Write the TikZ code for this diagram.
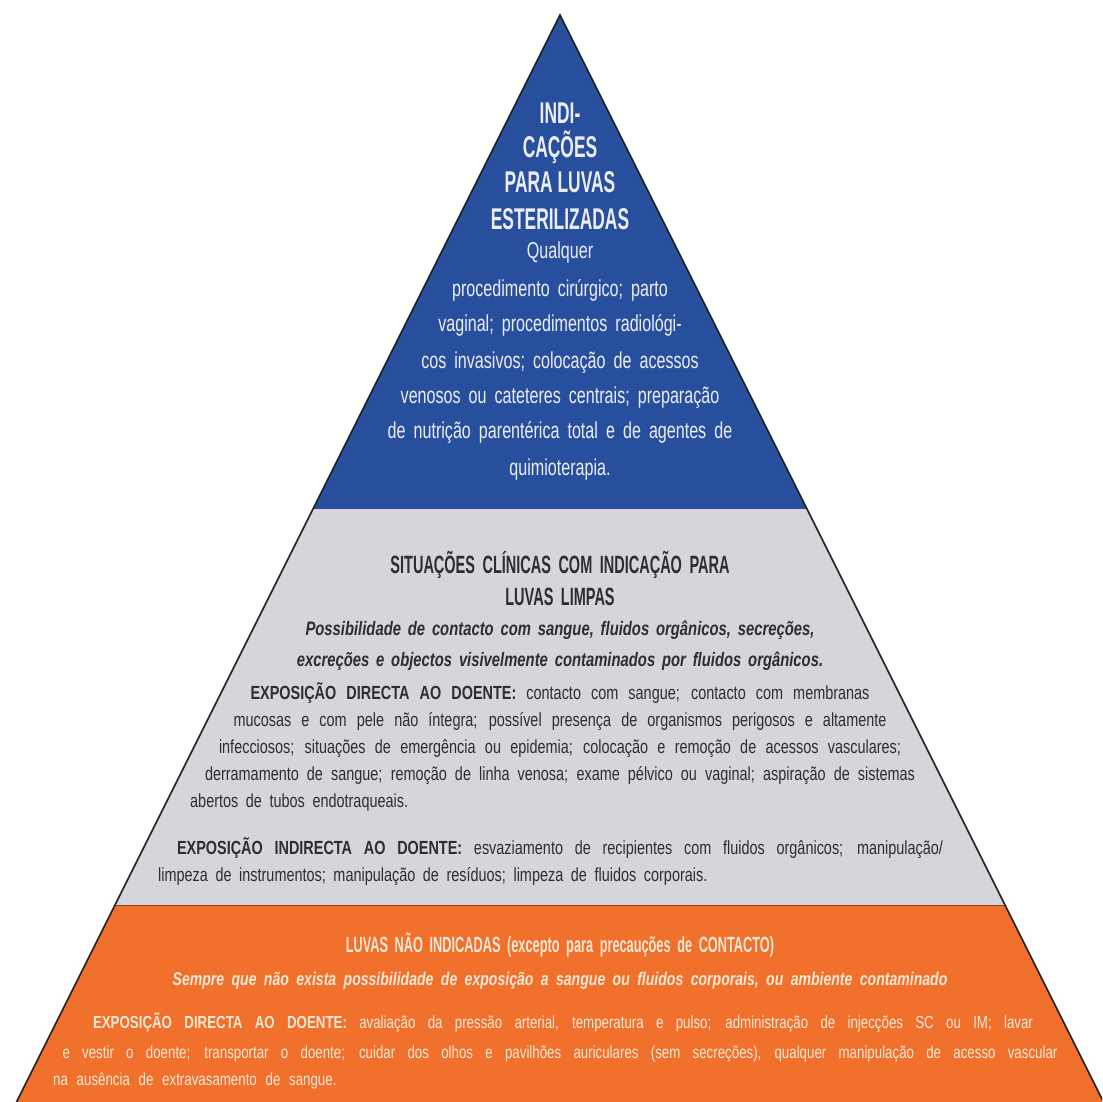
\documentclass[tikz,border=0pt]{standalone}
\usepackage{fontspec}
\setmainfont{Liberation Sans}[FakeStretch=0.76]
\newfontfamily\bluefont{Liberation Sans}[FakeStretch=0.70]
\newfontfamily\condensed{Liberation Sans}[FakeStretch=0.58]

\definecolor{pyrblue}{RGB}{40,78,158}
\definecolor{pyrgray}{RGB}{213,214,219}
\definecolor{pyrorange}{RGB}{240,112,44}
\definecolor{bluetext}{RGB}{236,238,245}
\definecolor{graytext}{RGB}{45,45,50}
\definecolor{orangetext}{RGB}{252,232,215}

\newcommand{\gap}[1]{\spaceskip=#1em plus .8em minus .05em\relax}
\newcommand{\jline}[2]{\makebox[#1][s]{#2}}

\tikzset{
    line/.style={anchor=base, inner sep=0pt},
    lline/.style={anchor=base west, inner sep=0pt},
    bluetitle/.style={text=bluetext, font=\condensed\bfseries\fontsize{30}{30}\selectfont},
    bluebody/.style={text=bluetext, font=\bluefont\fontsize{23}{23}\selectfont\gap{.35}},
    graytitle/.style={text=graytext, font=\condensed\bfseries\fontsize{25}{25}\selectfont\gap{.3}},
    grayital/.style={text=graytext, font=\bfseries\itshape\fontsize{19.5}{19.5}\selectfont\gap{.35}},
    graybody/.style={text=graytext, font=\fontsize{19}{19}\selectfont\gap{.4}},
    orangetitle/.style={text=orangetext, font=\condensed\bfseries\fontsize{22}{22}\selectfont\gap{.3}},
    orangeital/.style={text=orangetext, font=\bfseries\itshape\fontsize{18.5}{18.5}\selectfont\gap{.4}},
    orangebody/.style={text=orangetext, font=\fontsize{17.5}{17.5}\selectfont\gap{.5}},
}

\begin{document}
\begin{tikzpicture}[x=1pt,y=-1pt]

    \useasboundingbox (0,0) rectangle (1102,1102);
    \clip (0,0) rectangle (1102,1102);

    \coordinate (apex) at (560,15);
    \coordinate (bL) at (313,509);
    \coordinate (bR) at (807,509);
    \coordinate (gL) at (115,905);
    \coordinate (gR) at (1005,905);
    \coordinate (oL) at (16.5,1102);
    \coordinate (oR) at (1103.5,1102);

    \fill[pyrblue] (apex) -- (bR) -- (bL) -- cycle;
    \fill[pyrgray] (bL) -- (bR) -- (gR) -- (gL) -- cycle;
    \fill[pyrorange] (gL) -- (gR) -- (oR) -- (oL) -- cycle;
    \draw[pyrorange!60!black, thin] (gL) -- (gR);
    \draw[black!85, line width=1.6pt, line join=miter] (oL) -- (apex) -- (oR);

    % top: sterile gloves
    \node[line, bluetitle] (b1) at (560,124) {INDI-};
    \node[line, bluetitle] (b2) at (560,158) {CAÇÕES};
    \node[line, bluetitle] (b3) at (560,193) {PARA LUVAS};
    \node[line, bluetitle] (b4) at (560,229) {ESTERILIZADAS};
    \foreach \y/\txt [count=\i] in {
        258/{Qualquer},
        296/{procedimento cirúrgico; parto},
        331/{vaginal; procedimentos radiológi-},
        368/{cos invasivos; colocação de acessos},
        403/{venosos ou cateteres centrais; preparação},
        438/{de nutrição parentérica total e de agentes de},
        475/{quimioterapia.}}
        \node[line, bluebody] (q\i) at (560,\y) {\txt};

    % middle: clean gloves
    \node[line, graytitle] (g1) at (560,573) {SITUAÇÕES CLÍNICAS COM INDICAÇÃO PARA};
    \node[line, graytitle] (g2) at (560,605) {LUVAS LIMPAS};
    \node[line, grayital] (g3) at (560,635) {Possibilidade de contacto com sangue, fluidos orgânicos, secreções,};
    \node[line, grayital] (g4) at (560,666) {excreções e objectos visivelmente contaminados por fluidos orgânicos.};

    \node[line, graybody] (d1) at (560,699) {\jline{619pt}{\textbf{EXPOSIÇÃO DIRECTA AO DOENTE:} contacto com sangue; contacto com membranas}};
    \node[line, graybody] (d2) at (560,726) {\jline{653pt}{mucosas e com pele não íntegra; possível presença de organismos perigosos e altamente}};
    \node[line, graybody] (d3) at (560,753) {\jline{682pt}{infecciosos; situações de emergência ou epidemia; colocação e remoção de acessos vasculares;}};
    \node[line, graybody] (d4) at (560,780) {\jline{710pt}{derramamento de sangue; remoção de linha venosa; exame pélvico ou vaginal; aspiração de sistemas}};
    \node[lline, graybody] (d5) at (190,807) {abertos de tubos endotraqueais.};

    \node[line, graybody] (i1) at (560,854) {\jline{766pt}{\textbf{EXPOSIÇÃO INDIRECTA AO DOENTE:} esvaziamento de recipientes com fluidos orgânicos; manipulação/}};
    \node[lline, graybody] (i2) at (158,881) {limpeza de instrumentos; manipulação de resíduos; limpeza de fluidos corporais.};

    % bottom: gloves not indicated
    \node[line, orangetitle] (o1) at (560,952) {LUVAS NÃO INDICADAS (excepto para precauções de CONTACTO)};
    \node[line, orangeital] (o2) at (560,985) {Sempre que não exista possibilidade de exposição a sangue ou fluidos corporais, ou ambiente contaminado};
    \node[line, orangebody] (o3) at (563,1028) {\jline{940pt}{\textbf{EXPOSIÇÃO DIRECTA AO DOENTE:} avaliação da pressão arterial, temperatura e pulso; administração de injecções SC ou IM; lavar}};
    \node[line, orangebody] (o4) at (560,1058) {\jline{995pt}{e vestir o doente; transportar o doente; cuidar dos olhos e pavilhões auriculares (sem secreções), qualquer manipulação de acesso vascular}};
    \node[lline, orangebody] (o5) at (53,1085) {na ausência de extravasamento de sangue.};

\end{tikzpicture}
\end{document}
